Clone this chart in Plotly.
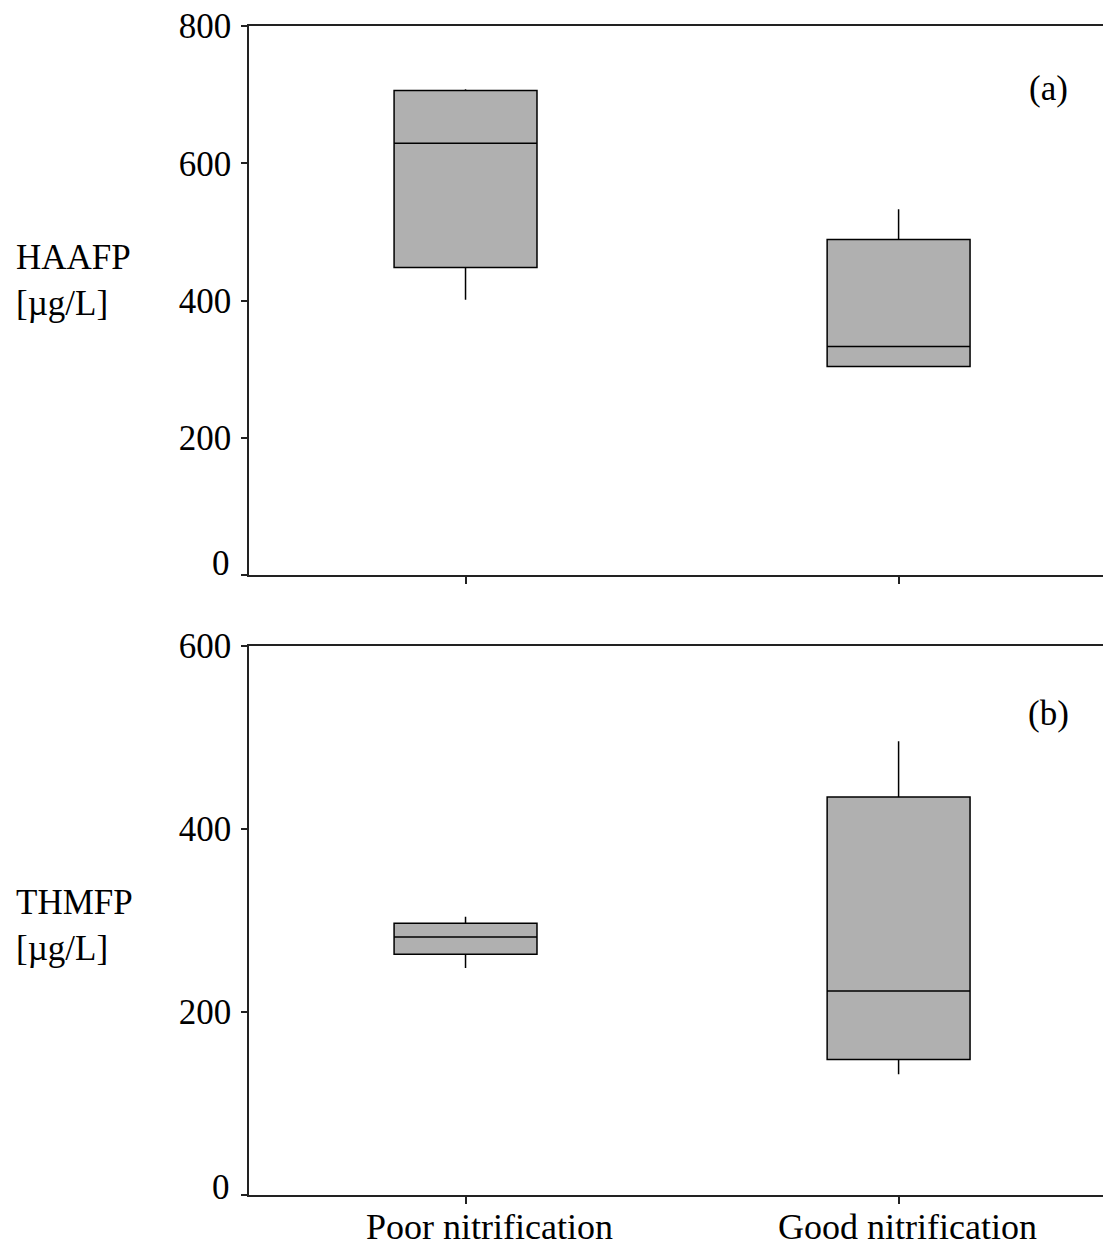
import plotly.graph_objects as go

categories = ["Poor nitrification", "Good nitrification"]

# Panel (a) HAAFP [µg/L]
haa_lower = [401, 304]
haa_q1 = [448, 304]
haa_median = [629, 333]
haa_q3 = [706, 489]
haa_upper = [708, 533]

# Panel (b) THMFP [µg/L]
thm_lower = [248, 132]
thm_q1 = [263, 148]
thm_median = [282, 223]
thm_q3 = [297, 435]
thm_upper = [304, 496]

haa_ticks = [0, 200, 400, 600, 800]
thm_ticks = [0, 200, 400, 600]

FONT = "Liberation Serif, Times New Roman, serif"
FILL = "#b0b0b0"

fig = go.Figure()
box_style = dict(fillcolor=FILL, line=dict(color="black", width=1.5),
                 whiskerwidth=0, width=0.33, boxpoints=False, showlegend=False,
                 hoverinfo="skip")
fig.add_trace(go.Box(x=categories, q1=haa_q1, median=haa_median, q3=haa_q3,
                     lowerfence=haa_lower, upperfence=haa_upper,
                     xaxis="x", yaxis="y", **box_style))
fig.add_trace(go.Box(x=categories, q1=thm_q1, median=thm_median, q3=thm_q3,
                     lowerfence=thm_lower, upperfence=thm_upper,
                     xaxis="x2", yaxis="y2", **box_style))

W, H = 1103, 1247
L, R, T, B = 249, 0, 26, 52
ph = H - T - B

def py(p):
    return (H - B - p) / ph

def px_x(p):
    return (p - L) / (W - L - R)

axis_common = dict(showline=True, linecolor="#222", linewidth=1.5, ticks="outside",
                   tickcolor="#222", tickwidth=1.5, showgrid=False, zeroline=False,
                   tickfont=dict(family=FONT, size=35, color="black"))

# zero labels drawn separately (the reference shows them raised above the axis)
haa_ticktext = ["" if v == 0 else str(v) for v in haa_ticks]
thm_ticktext = ["" if v == 0 else str(v) for v in thm_ticks]

fig.update_layout(
    width=W, height=H,
    margin=dict(l=L, r=R, t=T, b=B),
    paper_bgcolor="white", plot_bgcolor="white",
    xaxis=dict(domain=[0, 1], anchor="y", type="category", range=[-0.5, 1.472],
               showticklabels=False, ticklen=7, mirror=True, **axis_common),
    yaxis=dict(domain=[py(575), 1], anchor="x", range=[0, 800], tickvals=haa_ticks,
               ticktext=haa_ticktext, ticklen=6, ticklabelstandoff=3, **axis_common),
    xaxis2=dict(domain=[0, 1], anchor="y2", type="category", range=[-0.5, 1.472],
                showticklabels=False, ticklen=7, mirror=True, **axis_common),
    yaxis2=dict(domain=[0, py(646)], anchor="x2", range=[0, 600], tickvals=thm_ticks,
                ticktext=thm_ticktext, ticklen=6, ticklabelstandoff=3, **axis_common),
)

ann_font = dict(family=FONT, size=35, color="black")
fig.add_annotation(x=px_x(14), y=py(281), xref="paper", yref="paper",
                   text="HAAFP<br>[µg/L]", showarrow=False, xanchor="left",
                   yanchor="middle", align="left", font=ann_font)
fig.add_annotation(x=px_x(14), y=py(925), xref="paper", yref="paper",
                   text="THMFP<br>[µg/L]", showarrow=False, xanchor="left",
                   yanchor="middle", align="left", font=ann_font)
fig.add_annotation(x=px_x(1048), y=py(88), xref="paper", yref="paper",
                   text="(a)", showarrow=False, xanchor="center", yanchor="middle",
                   font=ann_font)
fig.add_annotation(x=px_x(1048), y=py(713), xref="paper", yref="paper",
                   text="(b)", showarrow=False, xanchor="center", yanchor="middle",
                   font=ann_font)
fig.add_annotation(x=px_x(232), y=py(563), xref="paper", yref="paper",
                   text="0", showarrow=False, xanchor="right", yanchor="middle",
                   font=ann_font)
fig.add_annotation(x=px_x(232), y=py(1187), xref="paper", yref="paper",
                   text="0", showarrow=False, xanchor="right", yanchor="middle",
                   font=ann_font)

# category labels under the lower panel (placed as in the reference)
cat_label_x = [489, 907]
for name, cx in zip(categories, cat_label_x):
    fig.add_annotation(x=px_x(cx), y=py(1227), xref="paper", yref="paper",
                       text=name, showarrow=False, xanchor="center", yanchor="middle",
                       font=dict(family=FONT, size=36, color="black"))

fig.write_html(
    "out.html",
    config={"displayModeBar": False},
    post_script=(
        "document.body.style.margin='0';"
        "document.body.style.overflow='hidden';"
        "document.documentElement.style.overflow='hidden';"
    ),
)
